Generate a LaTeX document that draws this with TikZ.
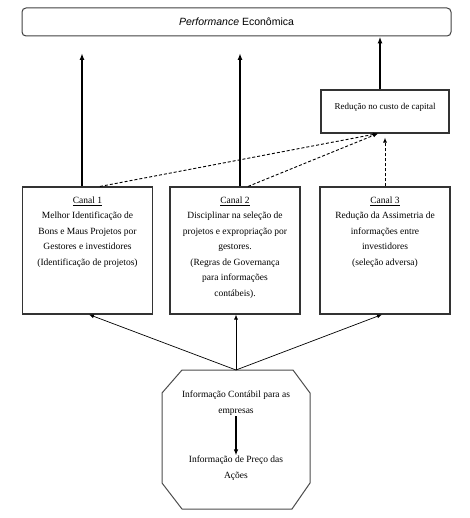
\documentclass[tikz,border=0pt]{standalone}
\usepackage{fontspec}
\setmainfont{Liberation Serif}
\newfontfamily\titlefont{Liberation Sans}
\usetikzlibrary{arrows.meta,calc}
\begin{document}
\begin{tikzpicture}[x=1pt,y=-1pt,
  titlebox/.style={draw=black!75, line width=1pt, rounded corners=4pt, minimum width=429pt, minimum height=28pt, inner sep=0pt, font=\titlefont\fontsize{10.5}{12}\selectfont},
  chbox/.style={draw=black!80, line width=1.1pt, minimum width=130pt, minimum height=127pt, inner sep=0pt},
  redbox/.style={draw=black!80, line width=1.1pt, minimum width=128pt, minimum height=43pt, inner sep=0pt},
  btext/.style={align=center, anchor=north, inner sep=0pt, font=\fontsize{9.5}{15.5}\selectfont},
  otext/.style={align=center, inner sep=0pt, font=\fontsize{9.5}{16}\selectfont},
  solidarr/.style={line width=1.6pt, -{Latex[length=7pt,width=5pt]}},
  dasharr/.style={densely dashed, line width=0.9pt, -{Latex[length=5pt,width=4pt]}},
  thinarr/.style={line width=0.7pt, -{Latex[length=5pt,width=4pt]}}
]
\useasboundingbox (0,0) rectangle (469,518);

\node[titlebox] (perf) at (236.5,22) {\textit{Performance} Econômica};
\node[redbox] (red) at (385,111.5) {};
\node[inner sep=0pt, font=\fontsize{9}{11}\selectfont] (redtxt) at ($(red.center)+(0,-4)$) {Redução no custo de capital};

\node[chbox] (b1) at (87.5,250.5) {};
\node[chbox] (b2) at (235,250.5) {};
\node[chbox] (b3) at (385,250.5) {};

\node[btext] (t1) at ($(b1.north)+(0,10)$) {\underline{Canal 1}\\Melhor Identificação de\\Bons e Maus Projetos por\\Gestores e investidores\\(Identificação de projetos)};
\node[btext] (t2) at ($(b2.north)+(0,10)$) {\underline{Canal 2}\\Disciplinar na seleção de\\projetos e expropriação por\\gestores.\\(Regras de Governança\\para informações\\contábeis).};
\node[btext] (t3) at ($(b3.north)+(0,10)$) {\underline{Canal 3}\\Redução da Assimetria de\\informações entre\\investidores\\(seleção adversa)};

% solid arrows to performance
\coordinate (p1) at (82,53);
\coordinate (p2) at (240,53);
\draw[solidarr] ($(b1.north)+(-5.5,0)$) -- (p1);
\draw[solidarr] ($(b2.north)+(5,0)$) -- (p2);
\draw[solidarr] ($(red.north)+(-5,0)$) -- ($(perf.south)+(143.5,0)$);

% dashed arrows to reduction box
\draw[dasharr] ($(b1.north)+(12.5,0)$) -- ($(red.south)+(-7,0)$);
\draw[dasharr] ($(b2.north)+(13,0)$) -- ($(red.south)+(-7,0)$);
\draw[dasharr] (b3.north) -- ($(red.south)+(0,4)$);

% octagon
\draw[draw=black!70, line width=1pt] (182,370) -- (293,370) -- (310,393) -- (310,483) -- (292,509) -- (182,509) -- (162,483) -- (162,393) -- cycle;
\coordinate (conv) at (236,370);
\node[otext] (o1) at (236,403.5) {Informação Contábil para as\\empresas};
\node[otext] (o2) at (236,468) {Informação de Preço das\\Ações};
\draw[line width=1.2pt, -{Latex[length=6pt,width=4.5pt]}] (o1.south) -- (o2.north);

\draw[thinarr] (conv) -- ($(b1.south)+(1.5,0)$);
\draw[thinarr] (conv) -- ($(b2.south)+(1,0)$);
\draw[thinarr] (conv) -- ($(b3.south)+(-3,0)$);
\end{tikzpicture}
\end{document}
